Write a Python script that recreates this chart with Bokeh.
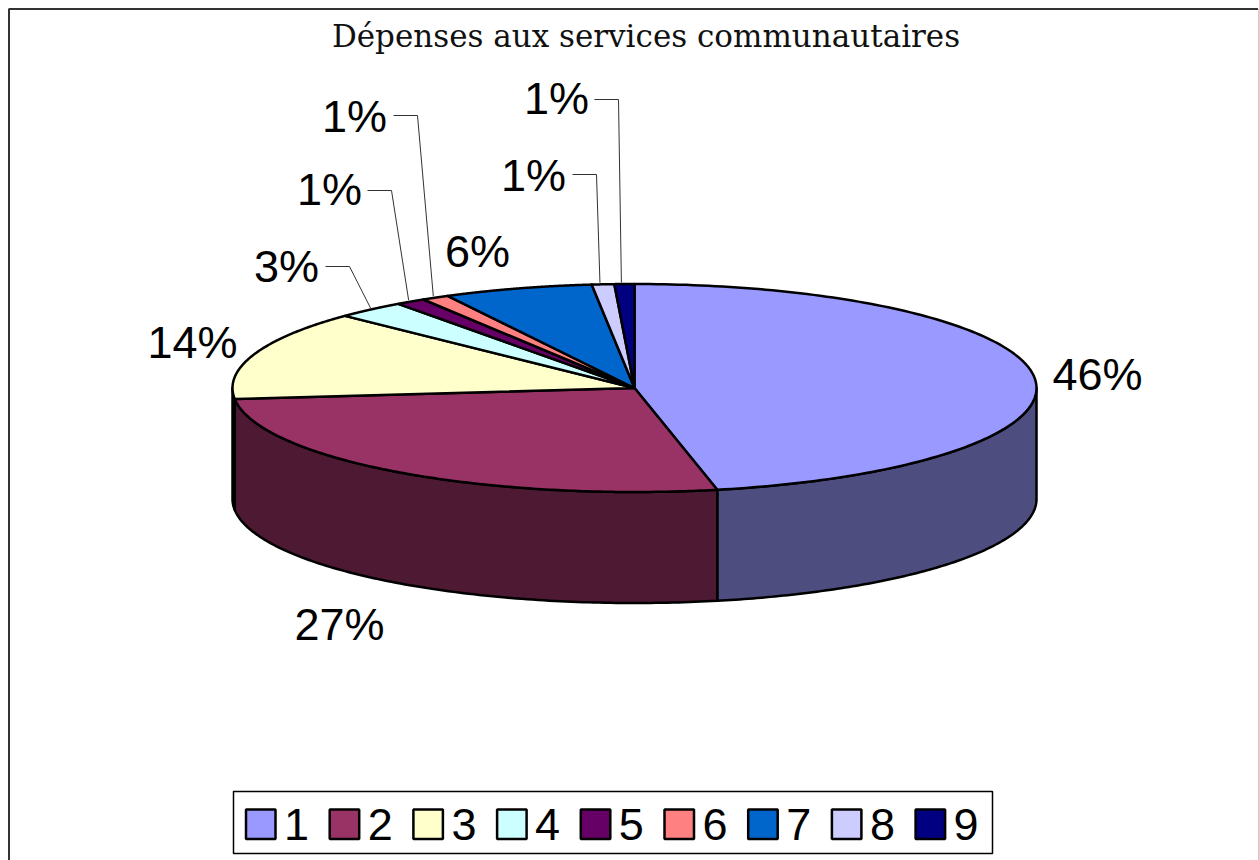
import numpy as np
from bokeh.embed import file_html
from bokeh.models import Range1d
from bokeh.plotting import figure
from bokeh.core.properties import value
from bokeh.resources import INLINE

# --- data -----------------------------------------------------------------
title = "Dépenses aux services communautaires"
categories = ["1", "2", "3", "4", "5", "6", "7", "8", "9"]
shares = [46.7, 26.6, 13.9, 2.8, 1.2, 1.1, 6.0, 0.9, 0.8]
pct_labels = ["46%", "27%", "14%", "3%", "1%", "1%", "6%", "1%", "1%"]
colors = ["#9999FF", "#993366", "#FFFFCC", "#CCFFFF", "#660066",
          "#FF8080", "#0066CC", "#CCCCFF", "#000080"]
wall_colors = ["#4D4D80", "#4D1933", "#808066", "#668080", "#330033",
               "#804040", "#003366", "#666680", "#000040"]

# --- layout ---------------------------------------------------------------
W, H = 1259, 860
CX, CY, RX, RY, DEPTH = 634, 387.5, 402, 104, 111
label_xy = [(1097, 373.5), (339, 623.5), (192, 341.5), (286, 265.5), (329, 188.5),
            (354, 115.5), (477, 250.5), (533, 174.5), (556, 97.5)]
leaders = {3: (325, 349, 266, 0), 4: (367, 391, 190, -2), 5: (393, 417, 115, -2),
           7: (572, 596, 174, -3), 8: (594, 618, 99, -3)}

p = figure(width=W, height=H, output_backend="svg", toolbar_location=None,
           x_range=Range1d(0, W), y_range=Range1d(H, 0), min_border=0,
           x_axis_type=None, y_axis_type=None, background_fill_color="white",
           border_fill_color="white", outline_line_color=None)
p.grid.visible = False

# frame
p.line([8.5, 8.5, W - 1.5], [H, 8.5, 8.5], line_color="#333333", line_width=2)
p.line([W - 0.5, W - 0.5], [8.5, H], line_color="#BBBBBB", line_width=1.5)


def ex(t):
    return CX + RX * np.sin(t)


def ey(t):
    return CY - RY * np.cos(t)


edges = np.cumsum([0.0] + shares) / sum(shares) * 2 * np.pi

# side walls
wx, wy, wc = [], [], []
for i, c in enumerate(wall_colors):
    a, b = max(edges[i], np.pi / 2), min(edges[i + 1], 3 * np.pi / 2)
    if b <= a:
        continue
    t = np.linspace(a, b, 120)
    wx.append(np.r_[ex(t), ex(t[::-1])])
    wy.append(np.r_[ey(t), ey(t[::-1]) + DEPTH])
    wc.append(c)
p.patches(wx, wy, fill_color=wc, line_color="black", line_width=2.5, line_join="round")

# top surface
tx, ty = [], []
for i in range(len(shares)):
    t = np.linspace(edges[i], edges[i + 1], 160)
    tx.append(np.r_[CX, ex(t)])
    ty.append(np.r_[CY, ey(t)])
p.patches(tx, ty, fill_color=colors, line_color="black", line_width=2.5, line_join="round")

# leader lines
for i, (x0, x1, y, dx) in leaders.items():
    m = (edges[i] + edges[i + 1]) / 2
    p.line([x0, x1, ex(m) + dx], [y, y, ey(m) - 1.5],
           line_color="#333333", line_width=1)

# percentage labels
p.text([x for x, _ in label_xy], [y for _, y in label_xy], text=pct_labels,
       text_font=value("Liberation Sans"), text_font_size="45px", text_color="black",
       text_align="center", text_baseline="middle")

# title
p.text([645.5], [35], text=[title], text_font=value("DejaVu Serif"),
       text_font_size="31px", text_color="#111111", text_align="center",
       text_baseline="middle")

# legend
p.quad(left=[233], right=[992], top=[791], bottom=[853],
       fill_color="white", line_color="black", line_width=1.5)
sw = [245.5 + 83.7 * i for i in range(len(categories))]
p.quad(left=sw, right=[x + 29.5 for x in sw], top=[809] * 9, bottom=[838.5] * 9,
       fill_color=colors, line_color="black", line_width=2.5)
p.text([x + 50.5 for x in sw], [824] * 9, text=categories,
       text_font=value("Liberation Sans"), text_font_size="45px", text_color="black",
       text_align="center", text_baseline="middle")

open("out.html", "w").write(file_html(p, INLINE))
